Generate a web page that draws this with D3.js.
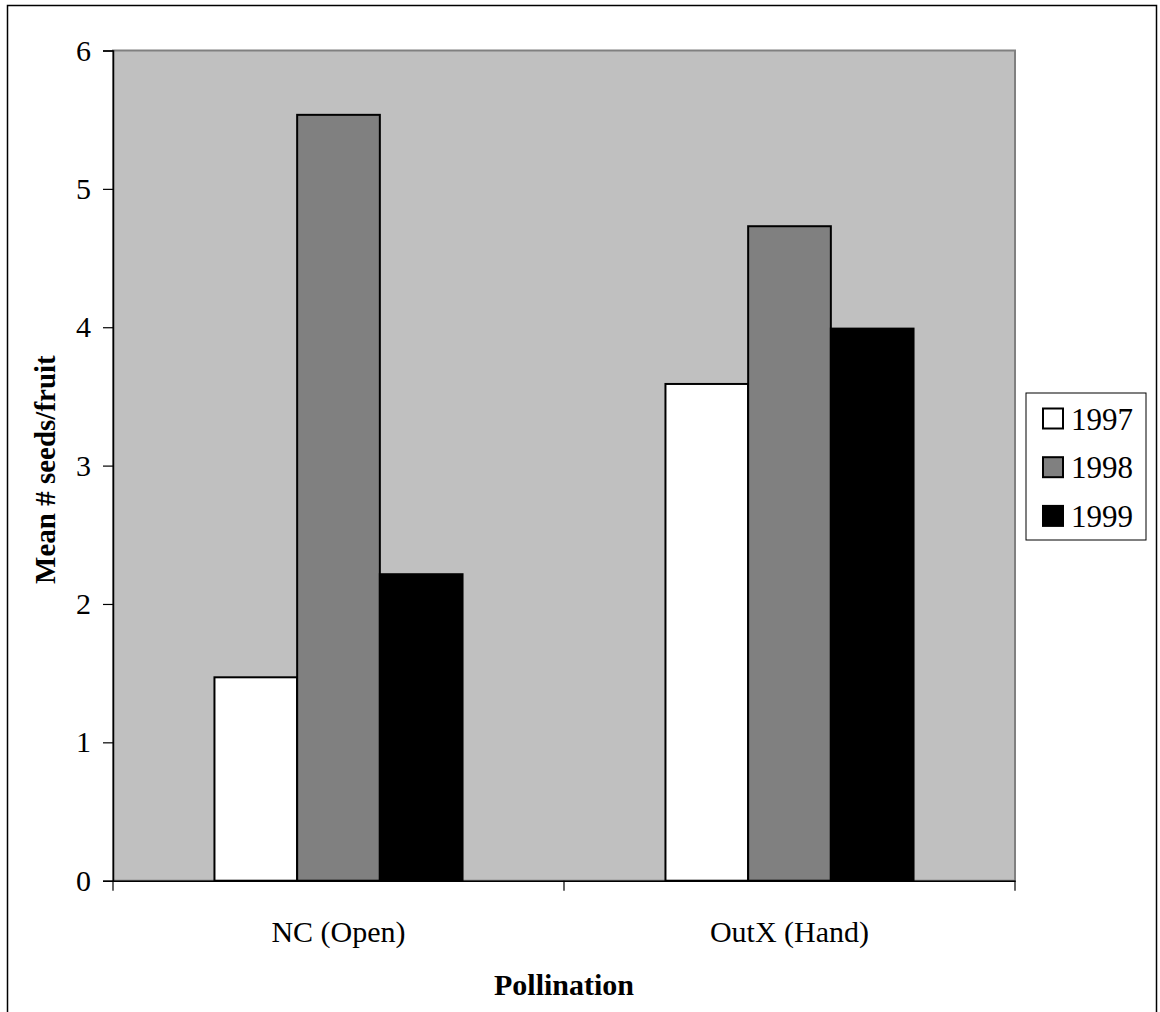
<!DOCTYPE html>
<html><head><meta charset="utf-8">
<script src="https://cdn.jsdelivr.net/npm/d3@7"></script>
<style>body{margin:0;background:#fff;} svg{display:block;}</style>
</head><body>
<script>
const categories = ["NC (Open)", "OutX (Hand)"];
const years = ["1997", "1998", "1999"];
const values1997 = [1.47, 3.59];
const values1998 = [5.535, 4.73];
const values1999 = [2.215, 3.99];
const yTicks = [0, 1, 2, 3, 4, 5, 6];
const colors = ["#ffffff", "#808080", "#000000"];
const series = [values1997, values1998, values1999];

const W = 1160, H = 1012;
const svg = d3.select("body").append("svg").attr("width", W).attr("height", H);
const font = "'Liberation Serif','Times New Roman',serif";

// outer border
svg.append("rect").attr("x", 7.5).attr("y", 5.5).attr("width", 1149).attr("height", 1020)
  .attr("fill", "#fff").attr("stroke", "#000").attr("stroke-width", 1.5);

const L = 113, R = 1015, T = 50.5, B = 880.7;
const x0 = d3.scaleBand().domain(categories).range([L, R]).paddingInner(0).paddingOuter(0);
const x1 = d3.scaleBand().domain(years).range([0, x0.bandwidth()]).paddingInner(0).paddingOuter(1.227);
const y = d3.scaleLinear().domain([0, 6]).range([B, T]);

// plot area
svg.append("rect").attr("x", L).attr("y", T).attr("width", R - L).attr("height", B - T)
  .attr("fill", "#c0c0c0").attr("stroke", "#808080").attr("stroke-width", 2);

// bars
years.forEach((yr, i) => {
  svg.append("g").selectAll("rect").data(series[i]).join("rect")
    .attr("x", (d, j) => x0(categories[j]) + x1(yr))
    .attr("y", d => y(d))
    .attr("width", x1.bandwidth())
    .attr("height", d => B - y(d))
    .attr("fill", colors[i])
    .attr("stroke", "#000").attr("stroke-width", 2);
});

// y axis
const yAxis = d3.axisLeft(y).tickValues(yTicks).tickSize(10).tickPadding(12).tickFormat(d3.format("d"));
const gy = svg.append("g").attr("transform", `translate(${L},0)`).call(yAxis);
gy.select(".domain").attr("stroke", "#000").attr("stroke-width", 1.5);
gy.selectAll(".tick line").attr("stroke", "#000").attr("stroke-width", 1.2);
gy.selectAll(".tick text").attr("font-family", font).attr("font-size", 30).attr("fill", "#000");

// x axis
const xAxis = d3.axisBottom(x0).tickSize(0).tickPadding(40);
const gx = svg.append("g").attr("transform", `translate(0,${B})`).call(xAxis);
gx.select(".domain").attr("stroke", "#000").attr("stroke-width", 1.5);
gx.selectAll(".tick text").attr("font-family", font).attr("font-size", 30).attr("fill", "#000");
// category separators ticks
const sep = [L, x0(categories[1]), R];
svg.append("g").selectAll("line").data(sep).join("line")
  .attr("x1", d => d).attr("x2", d => d).attr("y1", B).attr("y2", B + 10)
  .attr("stroke", "#000").attr("stroke-width", 1.2);

// axis titles
svg.append("text").attr("x", (L + R) / 2).attr("y", 995).attr("text-anchor", "middle")
  .attr("font-family", font).attr("font-weight", "bold").attr("font-size", 30).text("Pollination");
svg.append("text").attr("transform", `translate(55,${(T + B) / 2 + 4}) rotate(-90)`).attr("text-anchor", "middle")
  .attr("font-family", font).attr("font-weight", "bold").attr("font-size", 29).text("Mean # seeds/fruit");

// legend
const lg = svg.append("g");
lg.append("rect").attr("x", 1026).attr("y", 393).attr("width", 120).attr("height", 147)
  .attr("fill", "#fff").attr("stroke", "#000").attr("stroke-width", 1);
years.forEach((yr, i) => {
  const cy = 418.5 + i * 48.7;
  lg.append("rect").attr("x", 1043).attr("y", cy - 10).attr("width", 20).attr("height", 20)
    .attr("fill", colors[i]).attr("stroke", "#000").attr("stroke-width", 2);
  lg.append("text").attr("x", 1071).attr("y", cy + 11).attr("font-family", font)
    .attr("font-size", 31).text(yr);
});
</script>
</body></html>
